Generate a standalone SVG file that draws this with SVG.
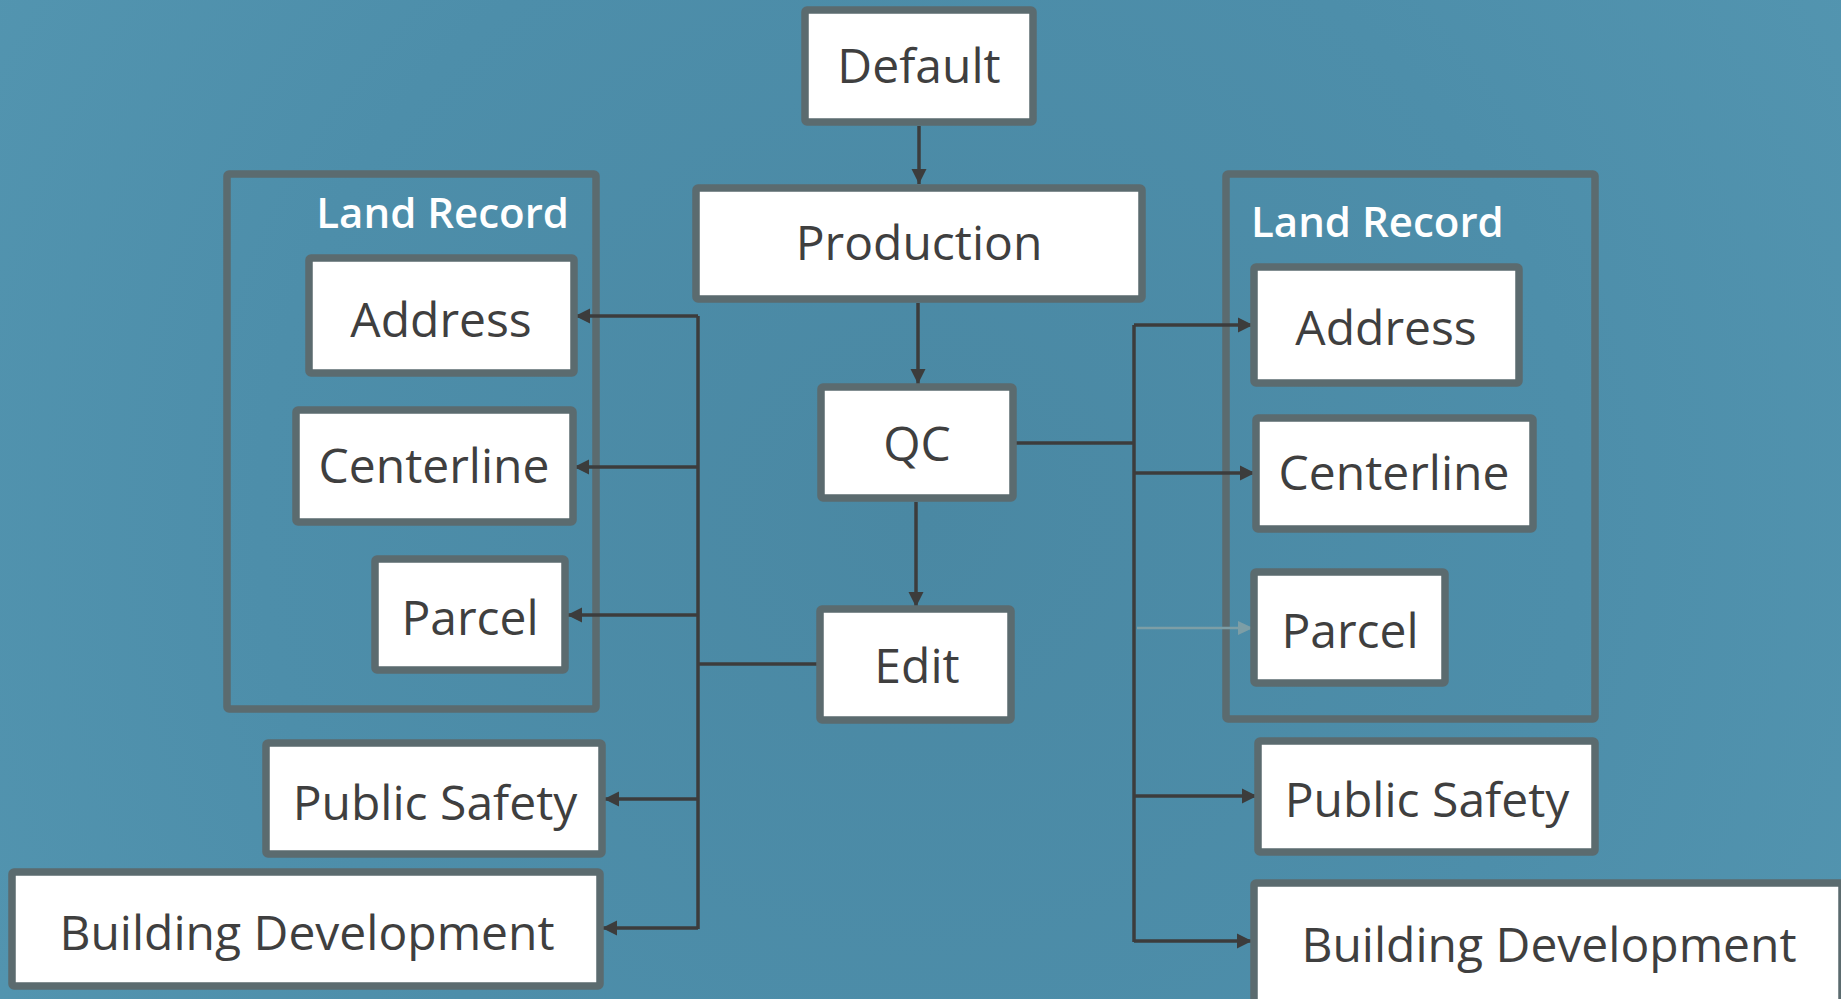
<svg xmlns="http://www.w3.org/2000/svg" width="1841" height="999" viewBox="0 0 1841 999">
<defs>
<radialGradient id="bg" cx="920" cy="520" r="1100" gradientUnits="userSpaceOnUse">
<stop offset="0" stop-color="#4a88a3"/>
<stop offset="0.6" stop-color="#4d8eaa"/>
<stop offset="1" stop-color="#5395b0"/>
</radialGradient>
<marker id="ah" markerUnits="userSpaceOnUse" markerWidth="16" markerHeight="16" refX="15" refY="8" orient="auto">
<path d="M0,0.5 L15,8 L0,15.5 z" fill="#3c3c3c"/>
</marker>
<marker id="ahg" markerUnits="userSpaceOnUse" markerWidth="16" markerHeight="16" refX="15" refY="8" orient="auto">
<path d="M0,1 L15,8 L0,15 z" fill="#7d9ea6"/>
</marker>
<style>
.box{fill:#ffffff;stroke:#5b6b6f;stroke-width:7.5;}
.grp{fill:none;stroke:#5b6b6f;stroke-width:7.5;}
.t{font-family:"Open Sans","Liberation Sans",sans-serif;font-size:48px;fill:#3f3f3f;text-anchor:middle;}
.title{font-family:"Open Sans","Liberation Sans",sans-serif;font-size:42px;font-weight:600;fill:#ffffff;}
.c{fill:none;stroke:#3c3c3c;stroke-width:3.5;}
.a{fill:none;stroke:#3c3c3c;stroke-width:3.5;marker-end:url(#ah);}
.g{fill:none;stroke:#7d9ea6;stroke-width:2.5;marker-end:url(#ahg);}
</style>
</defs>
<rect x="0" y="0" width="1841" height="999" fill="url(#bg)"/>

<g id="landrecord-left">
<rect class="grp" x="227" y="174" width="369" height="535" rx="2"/>
<text class="title" x="569" y="228" text-anchor="end">Land Record</text>
</g>
<g id="landrecord-right">
<rect class="grp" x="1226" y="174" width="369" height="545" rx="2"/>
<text class="title" x="1251" y="237">Land Record</text>
</g>

<g id="connectors">
<path class="a" d="M919,126 V184"/>
<path class="a" d="M918,303 V384"/>
<path class="a" d="M916,502 V607"/>
<path class="c" d="M820,664 H698"/>
<path class="c" d="M698,316 V929"/>
<path class="a" d="M698,316 H575"/>
<path class="a" d="M698,467 H574"/>
<path class="a" d="M698,615 H567"/>
<path class="a" d="M698,799 H604"/>
<path class="a" d="M698,928 H602"/>
<path class="c" d="M1013,443 H1134"/>
<path class="c" d="M1134,325 V942"/>
<path class="a" d="M1134,325 H1253"/>
<path class="a" d="M1134,473 H1255"/>
<path class="a" d="M1134,796 H1257"/>
<path class="a" d="M1134,941 H1252"/>
<path class="g" d="M1137,628 H1253"/>
</g>

<g id="default"><rect class="box" x="805" y="10" width="228" height="112" rx="2"/><text class="t" x="919" y="83">Default</text></g>
<g id="production"><rect class="box" x="696" y="188" width="446" height="111" rx="2"/><text class="t" x="919" y="260">Production</text></g>
<g id="qc"><rect class="box" x="821" y="387" width="192" height="111" rx="2"/><text class="t" x="917" y="461">QC</text></g>
<g id="edit"><rect class="box" x="820" y="609" width="191" height="111" rx="2"/><text class="t" x="917" y="683">Edit</text></g>

<g id="left-address"><rect class="box" x="309" y="258" width="265" height="115" rx="2"/><text class="t" x="441" y="337">Address</text></g>
<g id="left-centerline"><rect class="box" x="296" y="410" width="277" height="112" rx="2"/><text class="t" x="434" y="483">Centerline</text></g>
<g id="left-parcel"><rect class="box" x="375" y="559" width="190" height="111" rx="2"/><text class="t" x="470" y="635">Parcel</text></g>
<g id="left-publicsafety"><rect class="box" x="266" y="743" width="336" height="111" rx="2"/><text class="t" x="435" y="820">Public Safety</text></g>
<g id="left-building"><rect class="box" x="12" y="872" width="588" height="114" rx="2"/><text class="t" x="307" y="950">Building Development</text></g>

<g id="right-address"><rect class="box" x="1254" y="267" width="265" height="116" rx="2"/><text class="t" x="1386" y="345">Address</text></g>
<g id="right-centerline"><rect class="box" x="1256" y="418" width="277" height="111" rx="2"/><text class="t" x="1394" y="490">Centerline</text></g>
<g id="right-parcel"><rect class="box" x="1254" y="572" width="191" height="111" rx="2"/><text class="t" x="1350" y="648">Parcel</text></g>
<g id="right-publicsafety"><rect class="box" x="1258" y="741" width="337" height="111" rx="2"/><text class="t" x="1427" y="817">Public Safety</text></g>
<g id="right-building"><rect class="box" x="1254" y="883" width="588" height="140" rx="2"/><text class="t" x="1549" y="962">Building Development</text></g>
</svg>
